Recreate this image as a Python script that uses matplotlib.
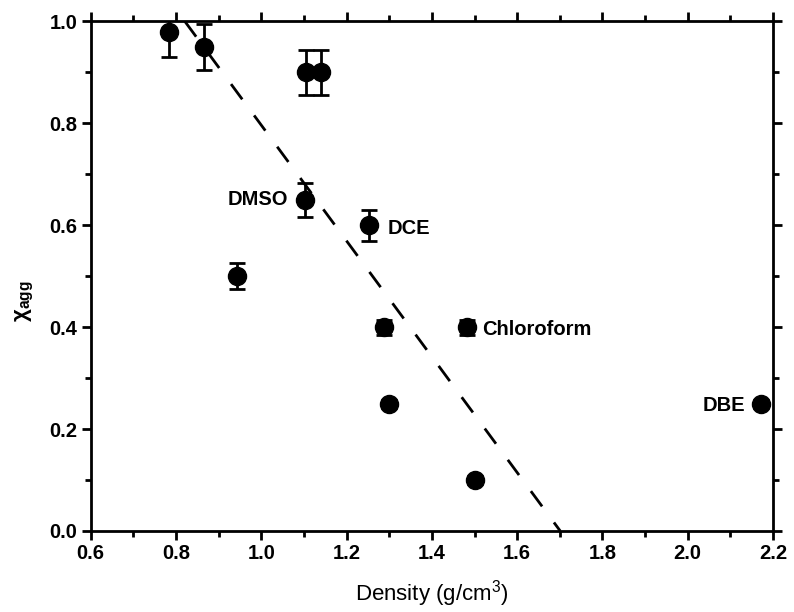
import matplotlib
matplotlib.use("Agg")
import matplotlib.pyplot as plt

plt.rcParams['font.family'] = ['Liberation Sans', 'DejaVu Sans']
plt.rcParams['mathtext.fontset'] = 'custom'
plt.rcParams['mathtext.rm'] = 'Liberation Sans'
plt.rcParams['mathtext.it'] = 'Liberation Sans'
plt.rcParams['mathtext.bf'] = 'Liberation Sans:bold'
plt.rcParams['mathtext.default'] = 'regular'

# data
density = [0.784, 0.866, 1.105, 1.139, 1.102, 1.253, 0.944, 1.288, 1.482, 1.300, 1.501, 2.172]
x_agg = [0.98, 0.95, 0.90, 0.90, 0.65, 0.60, 0.50, 0.40, 0.40, 0.25, 0.10, 0.25]
err = [0.05, 0.045, 0.045, 0.045, 0.033, 0.03, 0.025, 0.015, 0.015, 0.008, 0.008, 0.008]

# dashed linear guide
fit_x = [0.821, 1.701]
fit_y = [1.0, 0.0]

labels = ['DMSO', 'DCE', 'Chloroform', 'DBE']
label_x = [1.062, 1.297, 1.517, 2.134]
label_y = [0.65, 0.593, 0.395, 0.246]
label_ha = ['right', 'left', 'left', 'right']

fig = plt.figure(figsize=(7.94, 6.12), dpi=100)
ax = fig.add_axes([0.1142, 0.1324, 0.8594, 0.8325])

ax.plot(fit_x, fit_y, color='black', lw=2, dashes=(6.8, 7.2), zorder=2)
ax.errorbar(density, x_agg, yerr=err, fmt='o', color='black', ms=13,
            elinewidth=2, capsize=6, capthick=2, zorder=3)

for t, x, y, ha in zip(labels, label_x, label_y, label_ha):
    ax.text(x, y, t, ha=ha, va='center', fontsize=14.5, fontweight='bold')

ax.set_xlim(0.6, 2.2)
ax.set_ylim(0.0, 1.0)
ax.set_xticks([0.6, 0.8, 1.0, 1.2, 1.4, 1.6, 1.8, 2.0, 2.2])
ax.set_xticks([0.7, 0.9, 1.1, 1.3, 1.5, 1.7, 1.9, 2.1], minor=True)
ax.set_yticks([0.0, 0.2, 0.4, 0.6, 0.8, 1.0])
ax.set_yticks([0.1, 0.3, 0.5, 0.7, 0.9], minor=True)
ax.set_xticklabels(['0.6', '0.8', '1.0', '1.2', '1.4', '1.6', '1.8', '2.0', '2.2'])
ax.set_yticklabels(['0.0', '0.2', '0.4', '0.6', '0.8', '1.0'])

for lab in ax.get_xticklabels() + ax.get_yticklabels():
    lab.set_fontweight('bold')
    lab.set_fontsize(14.5)

ax.tick_params(which='both', direction='out', width=2, top=True, right=True,
               labeltop=False, labelright=False)
ax.tick_params(which='major', length=6.5, pad=3)
ax.tick_params(which='minor', length=4.3)
for sp in ax.spines.values():
    sp.set_linewidth(2)

ax.set_xlabel('Density (g/cm$^{3}$)', fontsize=16, labelpad=11)
ax.set_ylabel('χ$_{agg}$', fontsize=16, fontweight='bold')
ax.yaxis.set_label_coords(-0.08, 0.45)

fig.savefig('out.png', dpi=100)
